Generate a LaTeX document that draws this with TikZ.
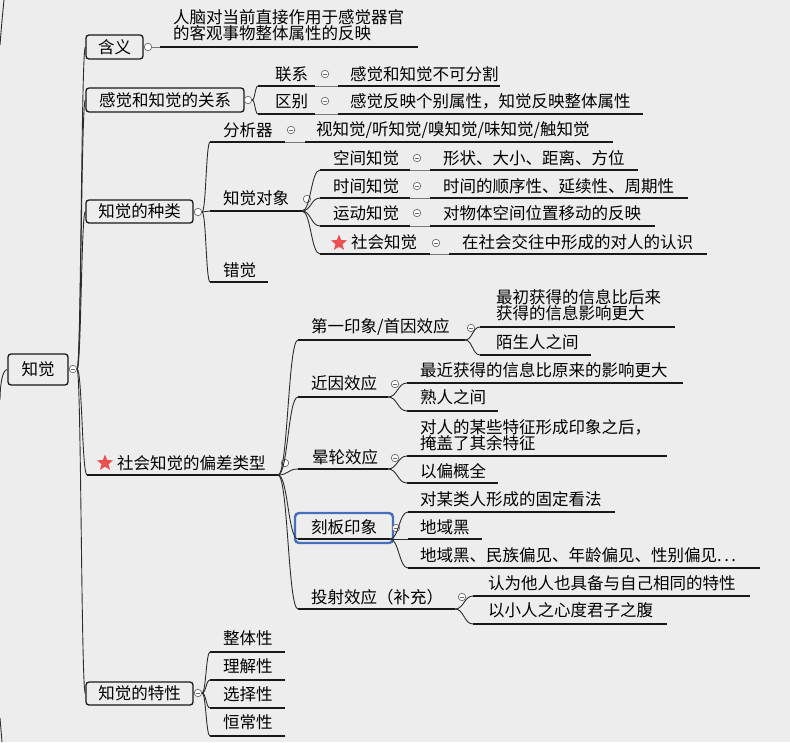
\documentclass[tikz,border=0pt]{standalone}
\usepackage{fontspec}
\newfontfamily\cjk{Noto Sans CJK SC}
\usetikzlibrary{calc,shapes.geometric}
\definecolor{bgc}{RGB}{237,237,237}
\definecolor{ulc}{RGB}{25,25,25}
\definecolor{fanc}{RGB}{45,45,45}
\definecolor{conc}{RGB}{120,120,120}
\definecolor{togc}{RGB}{105,105,105}
\definecolor{selc}{RGB}{68,110,190}
\definecolor{starc}{RGB}{235,80,80}
\tikzset{
  txt/.style={anchor=west, inner sep=0pt, align=left, font=\cjk\fontsize{16.5}{16}\selectfont},
  box/.style={draw=ulc, line width=1.3pt, rounded corners=3pt, fill=bgc, inner sep=0pt, font=\cjk\fontsize{16.5}{16}\selectfont},
  uline/.style={draw=ulc, line width=1.8pt},
  fanline/.style={draw=fanc, line width=0.9pt},
  conn/.style={draw=conc, line width=1pt},
  tog/.style={circle, draw=togc, fill=white, line width=0.7pt, minimum size=7.5pt, inner sep=0pt},
  togm/.style={tog, path picture={\draw[togc, line width=0.6pt] ([xshift=-1.8pt]path picture bounding box.center) -- ([xshift=1.8pt]path picture bounding box.center);}},
  starn/.style={star, star points=5, star point ratio=2.3, fill=starc, minimum size=17pt, inner sep=0pt},
  selbox/.style={draw=selc, line width=2.4pt, rounded corners=4pt}
}
\newcommand\utopic[7]{%
  \coordinate (#1-s) at (#2,#4); \coordinate (#1-e) at (#3,#4);
  \node[txt] (#1) at (#5,#6) {#7};
  \draw[uline] (#1-s) -- (#1-e);}
\newcommand\fanto[2]{\draw[fanline] let \p1=(#1), \p2=(#2) in (\p1) .. controls ({0.5*\x1+0.5*\x2},\y1) and ({0.5*\x1+0.5*\x2},\y2) .. (\p2);}
\begin{document}
\begin{tikzpicture}[x=1pt,y=-1pt]
\useasboundingbox (0,0) rectangle (790,742);
\fill[bgc] (0,0) rectangle (790,742);

% off-screen parent bits
\coordinate (offt1) at (4,0); \coordinate (offt2) at (0,45);
\draw[fanline] (offt1) .. controls (2,20) .. (offt2);
\coordinate (offb1) at (0,718); \coordinate (offb2) at (2,742);
\draw[fanline] (offb1) -- (offb2);
\coordinate (offl) at (0,400);

% root
\node[box, minimum width=60pt, minimum height=31pt] (root) at (38,369.5) {知觉};
\draw[fanline] (root.west) .. controls +(-5,0) and +(0,-15) .. (offl);
\node[togm] (root-t) at (73,369) {};

% level 1 boxes
\node[box, minimum width=57pt, minimum height=24pt] (hy) at (114.5,47) {含义};
\node[box, minimum width=158pt, minimum height=24pt] (gx) at (165,100) {感觉和知觉的关系};
\node[box, minimum width=107pt, minimum height=23pt] (zl) at (139.5,211.5) {知觉的种类};
\node[box, minimum width=107pt, minimum height=23pt] (tx) at (139.5,693.5) {知觉的特性};
\node[starn] (st2) at (105,463) {};
\utopic{pc}{87}{278}{475}{117}{463}{社会知觉的偏差类型}

\fanto{root-t.east}{hy.west}
\fanto{root-t.east}{gx.west}
\fanto{root-t.east}{zl.west}
\fanto{root-t.east}{pc-s}
\fanto{root-t.east}{tx.west}

% 含义
\node[tog] (hy-t) at (148,47) {};
\utopic{def}{160}{418}{47}{173}{25}{人脑对当前直接作用于感觉器官\\的客观事物整体属性的反映}
\draw[conn] (hy-t.east) -- (def-s);

% 关系
\node[tog] (gx-t) at (248,100) {};
\utopic{lx}{258}{315}{86}{275}{74}{联系}
\node[togm] (lx-t) at (325,74) {};
\utopic{lxc}{338}{500}{86}{350}{74}{感觉和知觉不可分割}
\draw[conn] (lx-e) -- (lxc-s);
\utopic{qb}{258}{315}{114}{275}{101}{区别}
\node[togm] (qb-t) at (325,101) {};
\utopic{qbc}{338}{643}{114}{350}{101}{感觉反映个别属性，知觉反映整体属性}
\draw[conn] (qb-e) -- (qbc-s);
\fanto{gx-t.east}{lx-s}
\fanto{gx-t.east}{qb-s}

% 种类
\node[tog] (zl-t) at (198,212) {};
\utopic{fxq}{210}{285}{142}{223}{130}{分析器}
\node[togm] (fxq-t) at (291,130) {};
\utopic{fxqc}{305}{613}{142}{316}{130}{视知觉/听知觉/嗅知觉/味知觉/触知觉}
\draw[conn] (fxq-e) -- (fxqc-s);
\utopic{dx}{210}{302}{211}{223}{198}{知觉对象}
\node[tog] (dx-t) at (307,199) {};
\utopic{kj}{320}{410}{170}{333}{158}{空间知觉}
\node[togm] (kj-t) at (417,158) {};
\utopic{kjc}{430}{638}{170}{443}{158}{形状、大小、距离、方位}
\draw[conn] (kj-e) -- (kjc-s);
\utopic{sj}{320}{410}{198}{333}{186}{时间知觉}
\node[togm] (sj-t) at (417,186) {};
\utopic{sjc}{430}{688}{198}{443}{186}{时间的顺序性、延续性、周期性}
\draw[conn] (sj-e) -- (sjc-s);
\utopic{yd}{320}{410}{226}{333}{213}{运动知觉}
\node[togm] (yd-t) at (417,213) {};
\utopic{ydc}{430}{655}{226}{443}{213}{对物体空间位置移动的反映}
\draw[conn] (yd-e) -- (ydc-s);
\node[starn] (st1) at (339,243) {};
\utopic{sh}{320}{430}{254}{351}{242}{社会知觉}
\node[togm] (sh-t) at (436,243) {};
\utopic{shc}{449}{707}{254}{462}{242}{在社会交往中形成的对人的认识}
\draw[conn] (sh-e) -- (shc-s);
\utopic{cj}{210}{268}{282}{223}{270}{错觉}
\fanto{zl-t.east}{fxq-s}
\fanto{zl-t.east}{dx-s}
\fanto{zl-t.east}{cj-s}
\fanto{dx-e}{kj-s}
\fanto{dx-e}{sj-s}
\fanto{dx-e}{yd-s}
\fanto{dx-e}{sh-s}

% 偏差类型
\node[tog] (pc-t) at (285,463) {};
\utopic{sy}{298}{465}{340}{311}{327}{第一印象/首因效应}
\node[togm] (sy-t) at (471,328) {};
\utopic{syc1}{480}{675}{327}{496}{305}{最初获得的信息比后来\\获得的信息影响更大}
\utopic{syc2}{480}{591}{355}{496}{342}{陌生人之间}
\fanto{sy-e}{syc1-s}
\fanto{sy-e}{syc2-s}
\utopic{jy}{298}{388}{397}{311}{383}{近因效应}
\node[togm] (jy-t) at (395,384) {};
\utopic{jyc1}{407}{683}{383}{420}{370}{最近获得的信息比原来的影响更大}
\utopic{jyc2}{407}{498}{411}{420}{397}{熟人之间}
\fanto{jy-e}{jyc1-s}
\fanto{jy-e}{jyc2-s}
\utopic{yl}{298}{388}{469}{312}{457}{晕轮效应}
\node[togm] (yl-t) at (395,458) {};
\utopic{ylc1}{407}{667}{456}{420}{435}{对人的某些特征形成印象之后，\\掩盖了其余特征}
\utopic{ylc2}{407}{498}{483}{420}{471}{以偏概全}
\fanto{yl-e}{ylc1-s}
\fanto{yl-e}{ylc2-s}
\utopic{kb}{298}{390}{539}{311}{527}{刻板印象}
\draw[selbox] (295,513) rectangle (393,543);
\node[togm] (kb-t) at (396,528) {};
\utopic{kbc1}{408}{615}{512}{420}{499}{对某类人形成的固定看法}
\utopic{kbc2}{408}{482}{539}{420}{527}{地域黑}
\utopic{kbc3}{408}{760}{568}{420}{555}{地域黑、民族偏见、年龄偏见、性别偏见.\kern2.5pt.\kern2.5pt.}
\fanto{kb-e}{kbc1-s}
\fanto{kb-e}{kbc2-s}
\fanto{kb-e}{kbc3-s}
\utopic{ts}{298}{455}{609}{311}{597}{投射效应（补充）}
\node[togm] (ts-t) at (462,597) {};
\utopic{tsc1}{473}{750}{596}{488}{583}{认为他人也具备与自己相同的特性}
\utopic{tsc2}{473}{667}{624}{488}{610}{以小人之心度君子之腹}
\fanto{ts-e}{tsc1-s}
\fanto{ts-e}{tsc2-s}
\fanto{pc-e}{sy-s}
\fanto{pc-e}{jy-s}
\fanto{pc-e}{yl-s}
\fanto{pc-e}{kb-s}
\fanto{pc-e}{ts-s}

% 特性
\node[togm] (tx-t) at (198,693) {};
\utopic{zt}{210}{285}{652}{223}{638}{整体性}
\utopic{lj}{210}{285}{680}{223}{666}{理解性}
\utopic{xz}{210}{285}{708}{223}{694}{选择性}
\utopic{hc}{210}{285}{736}{223}{722}{恒常性}
\fanto{tx-t.east}{zt-s}
\fanto{tx-t.east}{lj-s}
\fanto{tx-t.east}{xz-s}
\fanto{tx-t.east}{hc-s}
\end{tikzpicture}
\end{document}
